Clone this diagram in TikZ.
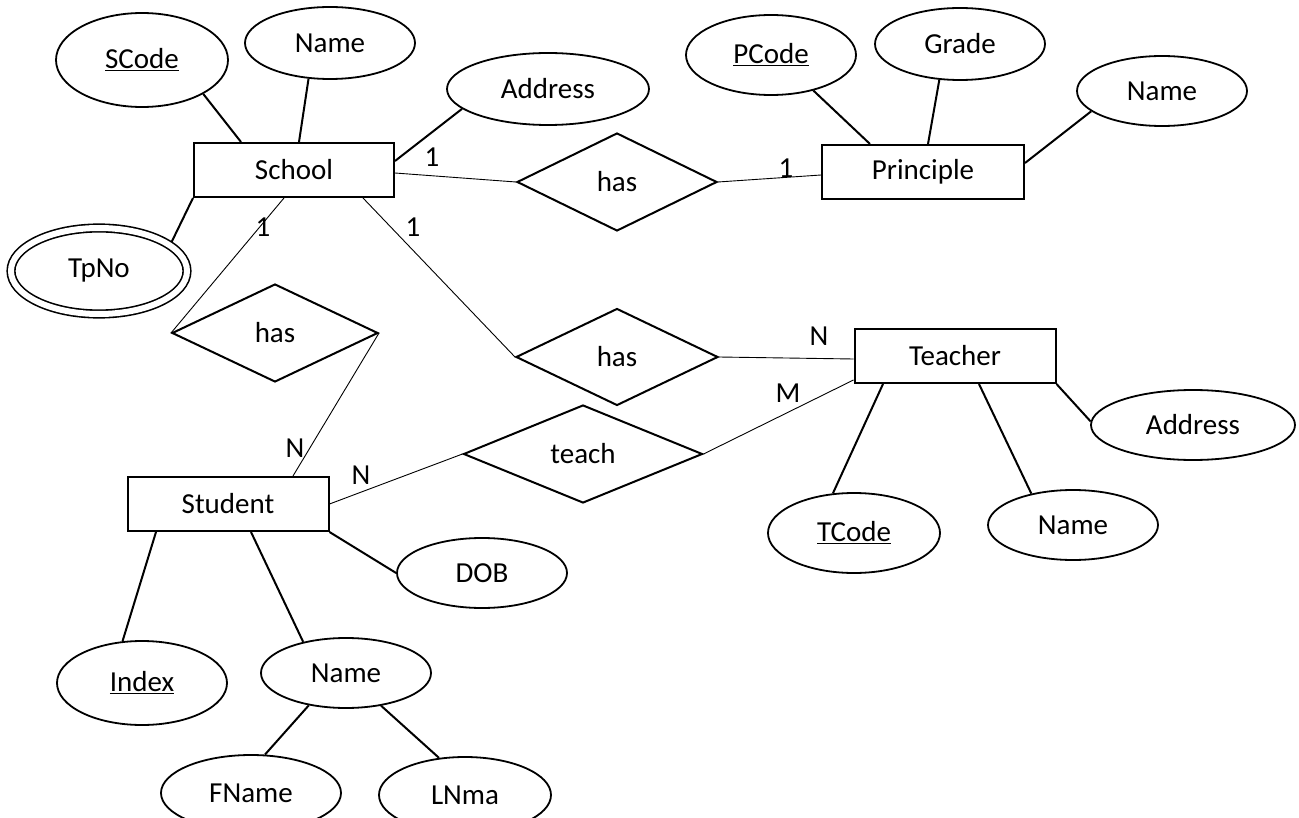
\documentclass[tikz,border=0pt]{standalone}
\usepackage{fontspec}
\setmainfont{Carlito}
\usetikzlibrary{shapes.geometric}

\begin{document}
\begin{tikzpicture}[
    x=1pt, y=-1pt,
    font=\fontsize{29}{34}\selectfont,
    entity/.style={rectangle, draw, line width=2pt, minimum width=#1, minimum height=54pt, inner sep=0pt},
    attr/.style={ellipse, draw, line width=1.8pt, inner sep=0pt},
    relation/.style={diamond, draw, line width=2pt, inner sep=0pt},
    attr line/.style={-, line width=2pt},
    rel line/.style={-, line width=0.9pt},
    card/.style={inner sep=0pt}
]

\useasboundingbox (0,0) rectangle (1299,818);

% Entities
\node[entity=200pt] (school) at (294,170) {School};
\node[entity=202pt] (principle) at (923,172) {Principle};
\node[entity=201pt] (teacher) at (955,356) {Teacher};
\node[entity=201pt] (student) at (228,504) {Student};

% Relationships
\node[relation, minimum width=200pt, minimum height=98pt] (has1) at (617,182) {has};
\node[relation, minimum width=206pt, minimum height=98pt] (has2) at (275,333) {has};
\node[relation, minimum width=202pt, minimum height=97pt] (has3) at (617,357) {has};
\node[relation, minimum width=239pt, minimum height=98pt] (teach) at (583,454) {teach};

% School attributes
\node[attr, minimum width=172pt, minimum height=94pt] (scode) at (142,60) {\underline{SCode}};
\node[attr, minimum width=170pt, minimum height=72pt] (sname) at (330,43) {Name};
\node[attr, minimum width=202pt, minimum height=72pt] (saddr) at (548,89) {Address};
\node[attr, double, double distance=6pt, line width=1.6pt, outer sep=4.6pt,
      minimum width=176pt, minimum height=86pt] (tpno) at (99,271) {TpNo};

\draw[attr line] (scode.-29) -- ([xshift=-53pt]school.north);
\draw[attr line] (sname.-121) -- ([xshift=5pt]school.north);
\draw[attr line] (saddr.-167) -- ([yshift=9pt]school.east);
\draw[attr line] (tpno.22) -- (school.south west);

% Principle attributes
\node[attr, minimum width=170pt, minimum height=80pt] (pcode) at (771,55) {\underline{PCode}};
\node[attr, minimum width=170pt, minimum height=72pt] (grade) at (960,44) {Grade};
\node[attr, minimum width=170pt, minimum height=70pt] (pname) at (1162,91) {Name};

\draw[attr line] (pcode.-40) -- ([xshift=-53pt]principle.north);
\draw[attr line] (grade.-120) -- ([xshift=5pt]principle.north);
\draw[attr line] (pname.-164) -- ([yshift=9pt]principle.east);

% Teacher attributes
\node[attr, minimum width=172pt, minimum height=80pt] (tcode) at (854,533) {\underline{TCode}};
\node[attr, minimum width=170pt, minimum height=70pt] (tname) at (1073,525) {Name};
\node[attr, minimum width=204pt, minimum height=70pt] (taddr) at (1193,425) {Address};

\draw[attr line] (tcode.118) -- ([xshift=-72pt]teacher.south);
\draw[attr line] (tname.143) -- ([xshift=24pt]teacher.south);
\draw[attr line] (taddr.178) -- (teacher.south east);

% Student attributes
\node[attr, minimum width=170pt, minimum height=84pt] (index) at (142,683) {\underline{Index}};
\node[attr, minimum width=170pt, minimum height=70pt] (stname) at (346,673) {Name};
\node[attr, minimum width=170pt, minimum height=70pt] (dob) at (482,573) {DOB};
\node[attr, minimum width=180pt, minimum height=76pt] (fname) at (251,793) {FName};
\node[attr, minimum width=172pt, minimum height=76pt] (lname) at (465,795) {LNma};

\draw[attr line] (index.115) -- ([xshift=-72pt]student.south);
\draw[attr line] (stname.144) -- ([xshift=23pt]student.south);
\draw[attr line] (dob.west) -- (student.south east);
\draw[attr line] (stname.-139) -- (fname.70);
\draw[attr line] (stname.-43) -- (lname.125);

% Relationship lines
\draw[rel line] ([yshift=-3pt]school.east) -- (has1.west);
\draw[rel line] (has1.east) -- ([yshift=-3pt]principle.west);
\draw[rel line] ([xshift=-10pt]school.south) -- (has2.west);
\draw[rel line] (has2.east) -- ([xshift=65pt]student.north);
\draw[rel line] ([xshift=69pt]school.south) -- (has3.west);
\draw[rel line] (has3.east) -- ([yshift=-3pt]teacher.west);
\draw[rel line] (student.east) -- (teach.west);
\draw[rel line] (teach.east) -- ([yshift=4pt]teacher.south west);

% Cardinalities
\node[card] (c1) at (432,157) {1};
\node[card] (c2) at (786,168) {1};
\node[card] (c3) at (263,227) {1};
\node[card] (c4) at (413,227) {1};
\node[card] (c5) at (295,448) {N};
\node[card] (c6) at (361,475) {N};
\node[card] (c7) at (819,336) {N};
\node[card] (c8) at (788,393) {M};

\end{tikzpicture}
\end{document}
